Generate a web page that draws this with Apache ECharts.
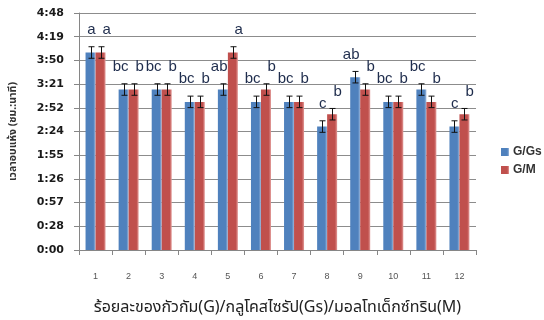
<!DOCTYPE html>
<html>
<head>
<meta charset="utf-8">
<script src="https://cdn.jsdelivr.net/npm/echarts@6/dist/echarts.min.js"></script>
<style>
  html, body { margin: 0; padding: 0; background: #fff; }
  #chart { width: 544px; height: 320px; }
</style>
</head>
<body>
<div id="chart"></div>
<script>
// Treatment numbers along the x axis
const categories = ['1', '2', '3', '4', '5', '6', '7', '8', '9', '10', '11', '12'];

// Drying time in minutes, with standard error in minutes
const dryGGs = [240, 195, 195, 180, 195, 180, 180, 150, 210, 180, 195, 150];
const dryGM  = [240, 195, 195, 180, 240, 195, 180, 165, 195, 180, 180, 165];
const errGGs = [7, 7, 7, 7, 7, 7, 7, 7, 7, 7, 7, 7];
const errGM  = [7, 7, 7, 7, 7, 7, 7, 7, 7, 7, 7, 7];

// Significance letters above each bar
const lettersGGs = ['a', 'bc', 'bc', 'bc', 'ab', 'bc', 'bc', 'c', 'ab', 'bc', 'bc', 'c'];
const lettersGM  = ['a', 'b', 'b', 'b', 'a', 'b', 'b', 'b', 'b', 'b', 'b', 'b'];

// Y axis: 0:00 to 4:48 in steps of 28.8 minutes
const yMin = 0, yMax = 288, yStep = 28.8;

const BAR_W = 10;
const CAP = 3;
const LABEL_GAP = 17;
const BLUE = '#4F81BD', RED = '#C0504D';

function fmtTime(v) {
  const m = Math.floor(v + 1e-6);
  const h = Math.floor(m / 60);
  const mm = m % 60;
  return h + ':' + (mm < 10 ? '0' : '') + mm;
}

function barFill(base, light) {
  return new echarts.graphic.LinearGradient(0, 0, 1, 0, [
    { offset: 0, color: base },
    { offset: 0.78, color: base },
    { offset: 1, color: light }
  ]);
}

// Error bars plus the letter group; blue letters sit to the left of the pair,
// red letters to the right, so neighbouring labels do not collide.
function errorSeries(name, values, errs, letters, dx, labelAlign, labelDx) {
  return {
    type: 'custom',
    name: name,
    z: 10,
    silent: true,
    data: values.map((v, i) => [i, v, errs[i]]),
    renderItem: function (params, api) {
      const i = api.value(0), v = api.value(1), e = api.value(2);
      const top = api.coord([i, v + e]);
      const bot = api.coord([i, v - e]);
      const x = Math.round(top[0] + dx) + 0.5;
      const ls = { stroke: '#111', lineWidth: 1 };
      return {
        type: 'group',
        children: [
          { type: 'line', shape: { x1: x, y1: top[1], x2: x, y2: bot[1] }, style: ls },
          { type: 'line', shape: { x1: x - CAP, y1: top[1], x2: x + CAP, y2: top[1] }, style: ls },
          { type: 'line', shape: { x1: x - CAP, y1: bot[1], x2: x + CAP, y2: bot[1] }, style: ls },
          {
            type: 'text',
            style: {
              text: letters[i], x: x + labelDx, y: top[1] - LABEL_GAP,
              align: labelAlign, verticalAlign: 'middle',
              fill: '#1f2d4d',
              font: '15px "Liberation Sans", Arial, sans-serif'
            }
          }
        ]
      };
    }
  };
}

const chart = echarts.init(document.getElementById('chart'), null, { renderer: 'canvas' });

chart.setOption({
  animation: false,
  backgroundColor: '#fff',
  grid: { left: 73, right: 68, top: 13, bottom: 64 },
  legend: {
    data: ['G/Gs', 'G/M'],
    orient: 'vertical',
    left: 501,
    top: 146,
    padding: 0,
    itemWidth: 8,
    itemHeight: 8,
    itemGap: 6,
    icon: 'rect',
    textStyle: { fontFamily: '"Liberation Sans", Arial, sans-serif', fontWeight: 'bold', fontSize: 12, color: '#333', padding: [0, 0, 0, -1] }
  },
  xAxis: {
    type: 'category',
    data: categories,
    name: 'ร้อยละของกัวกัม(G)/กลูโคสไซรัป(Gs)/มอลโทเด็กซ์ทริน(M)',
    nameLocation: 'middle',
    nameGap: 49,
    nameTextStyle: { fontSize: 16, color: '#222', fontFamily: '"Noto Sans", "Noto Sans Thai", sans-serif' },
    axisLine: { lineStyle: { color: '#868686' } },
    axisTick: { show: true, length: 5, lineStyle: { color: '#868686' } },
    axisLabel: { fontSize: 9, color: '#555', margin: 22, fontFamily: '"Liberation Sans", Arial, sans-serif' }
  },
  yAxis: {
    type: 'value',
    min: yMin,
    max: yMax,
    interval: yStep,
    name: 'เวลาอบแห้ง (ชม.:นาที)',
    nameLocation: 'middle',
    nameRotate: 90,
    nameGap: 60,
    nameTextStyle: { fontSize: 10.5, fontWeight: 'bold', color: '#333', fontFamily: '"Noto Sans", "Noto Sans Thai", sans-serif' },
    axisLine: { show: true, lineStyle: { color: '#868686' } },
    axisTick: { show: true, length: 5, lineStyle: { color: '#868686' } },
    axisLabel: {
      formatter: fmtTime,
      fontSize: 11,
      fontWeight: 'bold',
      color: '#1a1a1a',
      margin: 15,
      fontFamily: '"DejaVu Sans", sans-serif'
    },
    splitLine: { lineStyle: { color: '#8c8c8c' } }
  },
  series: [
    {
      name: 'G/Gs', type: 'bar', data: dryGGs, barWidth: BAR_W, barGap: '0%',
      itemStyle: { color: barFill(BLUE, '#9db8dc') }
    },
    {
      name: 'G/M', type: 'bar', data: dryGM, barWidth: BAR_W, barGap: '0%',
      itemStyle: { color: barFill(RED, '#e29a98') }
    },
    errorSeries('errGGs', dryGGs, errGGs, lettersGGs, -BAR_W / 2, 'right', 4),
    errorSeries('errGM', dryGM, errGM, lettersGM, BAR_W / 2, 'left', 1)
  ]
});
</script>
</body>
</html>
